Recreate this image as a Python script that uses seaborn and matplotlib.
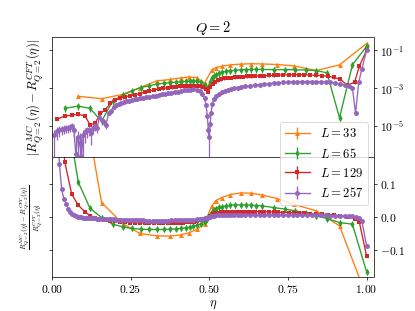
import numpy as np
import matplotlib
matplotlib.use("Agg")
import matplotlib.pyplot as plt
import matplotlib.ticker as mticker
import seaborn as sns

# ---------------- data ----------------
sizes = [33, 65, 129, 257]
colors = ["tab:orange", "tab:green", "tab:red", "tab:purple"]
markers = ["^", "d", "s", "o"]

eta33 = [0.083, 0.158, 0.225, 0.28, 0.333, 0.376, 0.41, 0.435, 0.46, 0.485,
         0.508, 0.52, 0.54, 0.567, 0.6, 0.633, 0.667, 0.715, 0.768, 0.84,
         0.914, 1.0]
log_abs33 = [-3.44, -3.57, -3.34, -2.98, -2.63, -2.55, -2.47, -2.42, -2.45, -2.75,
             -2.05, -1.93, -1.85, -1.78, -1.74, -1.72, -1.73, -1.76, -1.83, -2.08,
             -1.78, -0.65]
rel33 = [0.45, 0.043, -0.02, -0.05, -0.057, -0.058, -0.054, -0.048, -0.038, -0.02,
         0.033, 0.048, 0.058, 0.067, 0.072, 0.071, 0.066, 0.055, 0.038, 0.018,
         -0.027, -0.24]

eta65 = [0.041, 0.084, 0.121, 0.158, 0.193, 0.225, 0.254, 0.282, 0.31, 0.333,
         0.355, 0.376, 0.395, 0.41, 0.425, 0.438, 0.45, 0.462, 0.474, 0.485,
         0.494, 0.502, 0.508, 0.514, 0.52, 0.53, 0.54, 0.553, 0.567, 0.583,
         0.6, 0.617, 0.633, 0.65, 0.667, 0.705, 0.742, 0.774, 0.806, 0.84,
         0.874, 0.914, 0.955, 1.0]
log_abs65 = [-4.08, -3.96, -4.08, -4.76, -3.69, -3.38, -3.16, -2.98, -2.88, -2.8,
             -2.75, -2.72, -2.69, -2.67, -2.65, -2.64, -2.63, -2.65, -2.7, -2.85,
             -3.05, -2.7, -2.45, -2.36, -2.29, -2.22, -2.17, -2.12, -2.09, -2.06,
             -2.04, -2.03, -2.02, -2.02, -2.02, -2.03, -2.03, -2.04, -2.05, -2.08,
             -2.2, -4.58, -1.78, -0.8]
rel65 = [0.35, 0.104, 0.026, -0.002, -0.022, -0.03, -0.035, -0.037, -0.038, -0.038,
         -0.038, -0.037, -0.036, -0.035, -0.033, -0.031, -0.028, -0.025, -0.02, -0.014,
         -0.007, 0.005, 0.015, 0.021, 0.025, 0.029, 0.031, 0.033, 0.035, 0.036,
         0.036, 0.036, 0.035, 0.034, 0.033, 0.028, 0.023, 0.018, 0.011, 0.003,
         -0.005, -0.017, -0.022, -0.165]

eta129 = [0.017, 0.041, 0.063, 0.084, 0.105, 0.121, 0.137, 0.154, 0.17, 0.186,
          0.2, 0.217, 0.232, 0.248, 0.264, 0.28, 0.295, 0.31, 0.325, 0.34,
          0.354, 0.368, 0.381, 0.394, 0.406, 0.418, 0.43, 0.441, 0.452, 0.462,
          0.472, 0.481, 0.489, 0.496, 0.504, 0.511, 0.519, 0.528, 0.538, 0.548,
          0.559, 0.57, 0.582, 0.594, 0.606, 0.619, 0.632, 0.646, 0.66, 0.675,
          0.69, 0.705, 0.72, 0.736, 0.752, 0.768, 0.785, 0.802, 0.82, 0.838,
          0.857, 0.876, 0.896, 0.917, 0.938, 0.962, 0.977, 1.0]
log_abs129 = [-4.65, -4.49, -4.44, -4.4, -4.47, -4.94, -4.88, -4.35, -4.15, -3.8,
              -3.65, -3.55, -3.47, -3.41, -3.36, -3.3, -3.22, -3.16, -3.1, -3.05,
              -3.02, -2.99, -2.96, -2.94, -2.92, -2.9, -2.89, -2.88, -2.88, -2.89,
              -2.92, -2.97, -3.05, -3.2, -2.95, -2.8, -2.68, -2.6, -2.54, -2.5,
              -2.47, -2.45, -2.43, -2.41, -2.4, -2.39, -2.38, -2.37, -2.36, -2.35,
              -2.34, -2.33, -2.32, -2.31, -2.31, -2.3, -2.3, -2.31, -2.32, -2.33,
              -2.35, -2.38, -2.44, -2.55, -2.85, -2.7, -1.85, -1.0]
rel129 = [0.4, 0.165, 0.068, 0.035, 0.015, 0.004, -0.002, -0.006, -0.009, -0.011,
          -0.013, -0.015, -0.016, -0.017, -0.018, -0.018, -0.019, -0.019, -0.019, -0.019,
          -0.019, -0.019, -0.018, -0.018, -0.018, -0.017, -0.016, -0.015, -0.014, -0.012,
          -0.01, -0.008, -0.006, -0.003, 0.003, 0.008, 0.011, 0.013, 0.014, 0.015,
          0.015, 0.016, 0.016, 0.016, 0.016, 0.016, 0.016, 0.016, 0.015, 0.015,
          0.015, 0.014, 0.014, 0.013, 0.013, 0.012, 0.012, 0.011, 0.01, 0.009,
          0.008, 0.007, 0.005, 0.003, 0.0, -0.005, -0.016, -0.117]

eta257 = [0.008, 0.016, 0.024, 0.031, 0.038, 0.045, 0.052, 0.058, 0.064, 0.07,
          0.076, 0.082, 0.088, 0.094, 0.1, 0.106, 0.112, 0.118, 0.124, 0.13,
          0.137, 0.144, 0.151, 0.158, 0.165, 0.172, 0.18, 0.188, 0.196, 0.204,
          0.212, 0.22, 0.228, 0.236, 0.245, 0.254, 0.263, 0.272, 0.281, 0.29,
          0.3, 0.31, 0.32, 0.33, 0.34, 0.35, 0.36, 0.37, 0.38, 0.39,
          0.4, 0.41, 0.42, 0.43, 0.44, 0.45, 0.46, 0.47, 0.478, 0.485,
          0.49, 0.494, 0.497, 0.5, 0.503, 0.506, 0.51, 0.515, 0.522, 0.53,
          0.54, 0.55, 0.56, 0.57, 0.58, 0.59, 0.6, 0.615, 0.63, 0.645,
          0.66, 0.675, 0.69, 0.705, 0.72, 0.735, 0.75, 0.765, 0.78, 0.795,
          0.81, 0.825, 0.84, 0.855, 0.87, 0.885, 0.9, 0.915, 0.93, 0.945,
          0.955, 0.965, 0.975, 0.985, 1.0]
log_abs257 = [-5.5, -5.3, -5.22, -5.18, -5.15, -5.12, -5.1, -5.06, -5.03, -5.25,
              -6.5, -5.6, -5.9, -6.6, -5.5, -5.35, -5.25, -5.2, -5.39, -5.1,
              -5.03, -5.1, -4.55, -4.7, -4.8, -4.95, -4.35, -4.2, -4.0, -3.9,
              -3.83, -3.78, -3.74, -3.7, -3.67, -3.64, -3.61, -3.58, -3.55, -3.52,
              -3.49, -3.46, -3.43, -3.4, -3.37, -3.34, -3.31, -3.28, -3.25, -3.22,
              -3.19, -3.16, -3.13, -3.11, -3.09, -3.08, -3.1, -3.17, -3.3, -3.55,
              -3.9, -4.5, -5.2, -5.6, -4.9, -4.3, -3.85, -3.6, -3.45, -3.32,
              -3.22, -3.15, -3.1, -3.05, -3.01, -2.98, -2.95, -2.91, -2.88, -2.85,
              -2.82, -2.79, -2.77, -2.75, -2.73, -2.71, -2.69, -2.68, -2.67, -2.66,
              -2.66, -2.66, -2.67, -2.68, -2.69, -2.71, -2.74, -2.78, -2.83, -2.89,
              -2.98, -4.35, -2.7, -2.0, -1.0]
rel257 = [0.5, 0.3, 0.16, 0.083, 0.055, 0.04, 0.025, 0.016, 0.01, 0.006,
          0.003, 0.001, 0.0, -0.001, -0.002, -0.002, -0.003, -0.003, -0.003, -0.004,
          -0.004, -0.005, -0.005, -0.005, -0.006, -0.006, -0.007, -0.007, -0.007, -0.008,
          -0.008, -0.008, -0.009, -0.009, -0.009, -0.01, -0.01, -0.01, -0.01, -0.01,
          -0.011, -0.011, -0.011, -0.011, -0.011, -0.011, -0.011, -0.011, -0.01, -0.01,
          -0.01, -0.01, -0.009, -0.009, -0.008, -0.008, -0.007, -0.006, -0.005, -0.004,
          -0.003, -0.002, -0.001, 0.0, 0.001, 0.002, 0.003, 0.004, 0.005, 0.006,
          0.006, 0.007, 0.007, 0.007, 0.007, 0.007, 0.007, 0.007, 0.007, 0.007,
          0.007, 0.007, 0.007, 0.007, 0.007, 0.006, 0.006, 0.006, 0.006, 0.006,
          0.006, 0.005, 0.005, 0.005, 0.005, 0.004, 0.004, 0.004, 0.003, 0.003,
          0.002, 0.0, -0.003, -0.012, -0.087]

# error bar sizes (relative + absolute on the top panel, absolute on the bottom one)
top_err_rel = [0.15, 0.35, 0.15, 0.15]
top_err_abs = [0.0, 0.0, 0.0, 2.5e-6]
bot_err = [0.003, 0.008, 0.003, 0.003]

etas = [eta33, eta65, eta129, eta257]
log_abs = [log_abs33, log_abs65, log_abs129, log_abs257]
rels = [rel33, rel65, rel129, rel257]
for e, a, r in zip(etas, log_abs, rels):
    assert len(e) == len(a) == len(r)

# ---------------- style ----------------
plt.rcParams.update({
    "font.family": "serif",
    "font.serif": ["cmr10"],
    "mathtext.fontset": "cm",
    "axes.formatter.use_mathtext": True,
    "axes.unicode_minus": False,
    "font.size": 14,
    "xtick.labelsize": 13,
    "ytick.labelsize": 13,
    "legend.fontsize": 14,
})

DPI = 415 / 6.4
fig, (ax1, ax2) = plt.subplots(2, 1, sharex=True, figsize=(6.4, 4.8), dpi=DPI)
fig.subplots_adjust(left=0.125, right=0.9, bottom=0.11, top=0.88, hspace=0)
ax1.set_yscale("log")

handles = []
for i, L in enumerate(sizes):
    x = np.array(etas[i])
    yabs = 10.0 ** np.array(log_abs[i])
    yrel = np.array(rels[i])
    c, m = colors[i], markers[i]
    kw = dict(color=c, marker=m, markersize=5.5, markeredgewidth=0,
              linewidth=1.5, estimator=None, sort=False, legend=False)
    sns.lineplot(x=x, y=yabs, ax=ax1, **kw)
    sns.lineplot(x=x, y=yrel, ax=ax2, **kw)
    eabs = yabs * top_err_rel[i] + top_err_abs[i]
    ax1.errorbar(x, yabs, yerr=eabs, fmt="none", ecolor=c, elinewidth=1.4)
    ax2.errorbar(x, yrel, yerr=bot_err[i], fmt="none", ecolor=c, elinewidth=1.4)
    h = ax2.errorbar([np.nan], [np.nan], yerr=[np.nan], color=c, marker=m,
                     markersize=5.5, markeredgewidth=0, linewidth=1.5,
                     label=rf"$L={L}$")
    handles.append(h)

ax1.set_xlim(0, 1.022)
ax1.set_ylim(10 ** -6.65, 10 ** -0.31)
ax2.set_ylim(-0.18, 0.18)

ax1.yaxis.set_major_locator(mticker.FixedLocator([1e-5, 1e-3, 1e-1]))
ax1.yaxis.set_minor_locator(mticker.NullLocator())
ax2.yaxis.set_major_locator(mticker.FixedLocator([-0.1, 0.0, 0.1]))
ax2.yaxis.set_major_formatter(mticker.FuncFormatter(lambda v, p: rf"${v:.1f}$"))
ax2.xaxis.set_major_locator(mticker.FixedLocator([0, 0.25, 0.5, 0.75, 1.0]))
ax2.xaxis.set_major_formatter(mticker.FuncFormatter(lambda v, p: rf"${v:.2f}$"))

for ax in (ax1, ax2):
    ax.tick_params(axis="y", left=True, right=True, labelleft=False, labelright=True)

ax1.set_title(r"$Q=2$", fontsize=16)
ax1.set_ylabel(r"$|R^{MC}_{Q=2}(\eta) - R^{CFT}_{Q=2}(\eta)|$")
ax2.set_ylabel(r"$\frac{R^{MC}_{Q=2}(\eta)-R^{CFT}_{Q=2}(\eta)}{R^{CFT}_{Q=2}(\eta)}$",
               fontsize=11.5)
ax2.set_xlabel(r"$\eta$")

ax2.legend(handles=handles, loc="upper right", bbox_to_anchor=(0.984, 1.29),
           borderaxespad=0)

fig.savefig("out.png", dpi=DPI)
